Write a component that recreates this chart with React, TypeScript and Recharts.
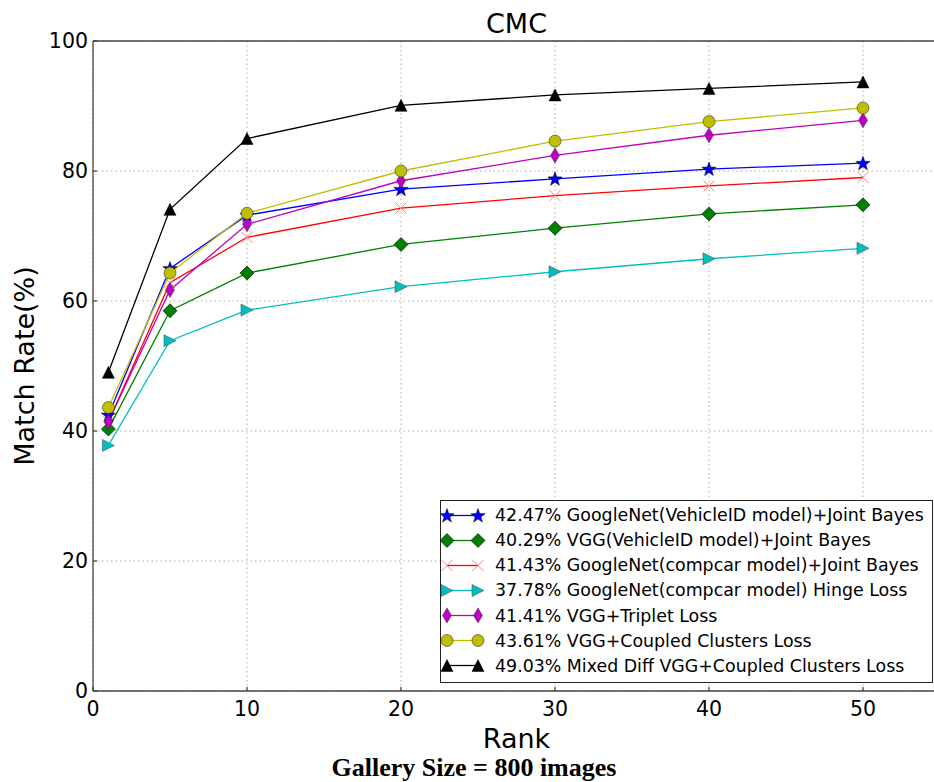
import React from 'react';
import { LineChart, Line, XAxis, YAxis, CartesianGrid, ReferenceLine, Legend } from 'recharts';

const ranks = [1, 5, 10, 20, 30, 40, 50];
const googleNetVehicleJB = [42.47, 65.0, 73.2, 77.2, 78.8, 80.3, 81.2];
const vggVehicleJB = [40.29, 58.5, 64.3, 68.7, 71.2, 73.4, 74.8];
const googleNetCompcarJB = [41.43, 62.8, 69.8, 74.3, 76.2, 77.7, 79.0];
const googleNetCompcarHinge = [37.78, 53.9, 58.6, 62.2, 64.5, 66.5, 68.1];
const vggTriplet = [41.41, 61.7, 71.8, 78.5, 82.4, 85.5, 87.8];
const vggCoupled = [43.61, 64.3, 73.5, 80.0, 84.6, 87.6, 89.7];
const mixedDiffCoupled = [49.03, 74.1, 85.0, 90.1, 91.7, 92.7, 93.7];

const xTicks = [0, 10, 20, 30, 40, 50];
const yTicks = [0, 20, 40, 60, 80, 100];

const FONT = '"DejaVu Sans", sans-serif';

const series = [
  { key: 's0', name: '42.47% GoogleNet(VehicleID model)+Joint Bayes', color: '#0000ff', shape: 'star', values: googleNetVehicleJB },
  { key: 's1', name: '40.29% VGG(VehicleID model)+Joint Bayes', color: '#008000', shape: 'diamond', values: vggVehicleJB },
  { key: 's2', name: '41.43% GoogleNet(compcar model)+Joint Bayes', color: '#ff0000', shape: 'x', values: googleNetCompcarJB },
  { key: 's3', name: '37.78% GoogleNet(compcar model) Hinge Loss', color: '#00bfbf', shape: 'triRight', values: googleNetCompcarHinge },
  { key: 's4', name: '41.41% VGG+Triplet Loss', color: '#bf00bf', shape: 'thinDiamond', values: vggTriplet },
  { key: 's5', name: '43.61% VGG+Coupled Clusters Loss', color: '#bfbf00', shape: 'circle', values: vggCoupled },
  { key: 's6', name: '49.03% Mixed Diff VGG+Coupled Clusters Loss', color: '#000000', shape: 'triUp', values: mixedDiffCoupled },
];

const data = ranks.map((rank, i) => {
  const row: Record<string, number> = { rank };
  series.forEach((s) => {
    row[s.key] = s.values[i];
  });
  return row;
});

const starPath = (cx: number, cy: number, R: number) => {
  const r = R * 0.4;
  const pts: string[] = [];
  for (let i = 0; i < 10; i++) {
    const rad = i % 2 === 0 ? R : r;
    const a = -Math.PI / 2 + (i * Math.PI) / 5;
    pts.push(`${cx + rad * Math.cos(a)},${cy + rad * Math.sin(a)}`);
  }
  return pts.join(' ');
};

const Marker = ({ shape, cx, cy }: { shape: string; cx: number; cy: number }) => {
  if (cx == null || cy == null) return null;
  switch (shape) {
    case 'star':
      return <polygon points={starPath(cx, cy + 0.5, 7.5)} fill="#0000ff" stroke="#000" strokeWidth={0.5} />;
    case 'diamond':
      return (
        <polygon
          points={`${cx},${cy - 7} ${cx + 7},${cy} ${cx},${cy + 7} ${cx - 7},${cy}`}
          fill="#008000"
          stroke="#000"
          strokeWidth={0.6}
        />
      );
    case 'x':
      return (
        <g stroke="#ff8080" strokeWidth={1}>
          <line x1={cx - 5.5} y1={cy - 5.5} x2={cx + 5.5} y2={cy + 5.5} />
          <line x1={cx - 5.5} y1={cy + 5.5} x2={cx + 5.5} y2={cy - 5.5} />
        </g>
      );
    case 'triRight':
      return (
        <polygon
          points={`${cx + 6},${cy} ${cx - 6},${cy - 6} ${cx - 6},${cy + 6}`}
          fill="#00bfbf"
          stroke="#555"
          strokeWidth={0.6}
        />
      );
    case 'thinDiamond':
      return (
        <polygon
          points={`${cx},${cy - 7.5} ${cx + 4.5},${cy} ${cx},${cy + 7.5} ${cx - 4.5},${cy}`}
          fill="#bf00bf"
          stroke="#333"
          strokeWidth={0.5}
        />
      );
    case 'circle':
      return <circle cx={cx} cy={cy} r={6} fill="#bfbf00" stroke="#333" strokeWidth={0.6} />;
    case 'triUp':
      return <polygon points={`${cx},${cy - 6} ${cx + 6},${cy + 6} ${cx - 6},${cy + 6}`} fill="#000" stroke="#000" strokeWidth={0.5} />;
    default:
      return null;
  }
};

const LegendBox = () => (
  <div
    style={{
      border: '1px solid #222',
      background: '#fff',
      padding: '1.5px 0 3.5px 0',
      width: 493,
      boxSizing: 'border-box',
      fontFamily: FONT,
      fontSize: 17.4,
      color: '#000',
    }}
  >
    {series.map((s) => (
      <div key={s.key} style={{ display: 'flex', alignItems: 'center', height: 25.15, whiteSpace: 'nowrap' }}>
        <svg width={48} height={25} style={{ flex: 'none' }}>
          <line x1={6} x2={37} y1={12.5} y2={12.5} stroke={s.color} strokeWidth={1.3} />
          <Marker shape={s.shape} cx={6} cy={12.5} />
          <Marker shape={s.shape} cx={37} cy={12.5} />
        </svg>
        <span style={{ marginLeft: 6 }}>{s.name}</span>
      </div>
    ))}
  </div>
);

const App = () => {
  return (
    <div
      style={{
        position: 'absolute',
        left: 0,
        top: 0,
        width: 934,
        height: 782,
        overflow: 'hidden',
        background: '#fff',
      }}
    >
      <LineChart width={960} height={782} data={data} margin={{ top: 41, right: 20, bottom: 0, left: 0 }}>
        <CartesianGrid stroke="#999" strokeDasharray="1.5 3" strokeWidth={0.8} />
        <XAxis
          dataKey="rank"
          type="number"
          domain={[0, 55]}
          ticks={xTicks}
          height={91}
          tickSize={-4}
          tickMargin={14}
          stroke="#444"
          strokeWidth={1.3}
          tick={{ fill: '#000', fontSize: 20.5, fontFamily: FONT }}
          label={{
            content: () => (
              <text x={516.5} y={748} textAnchor="middle" fontSize={27} fontFamily={FONT} fill="#000">
                Rank
              </text>
            ),
          }}
        />
        <YAxis
          type="number"
          domain={[0, 100]}
          ticks={yTicks}
          width={93}
          tickSize={-4}
          tickMargin={9}
          stroke="#444"
          strokeWidth={1.3}
          tick={{ fill: '#000', fontSize: 20.5, fontFamily: FONT }}
          label={{
            content: () => (
              <text
                x={34}
                y={366}
                transform="rotate(-90 34 366)"
                textAnchor="middle"
                fontSize={27}
                fontFamily={FONT}
                fill="#000"
              >
                Match Rate(%)
              </text>
            ),
          }}
        />
        <ReferenceLine
          y={100}
          stroke="#444"
          strokeWidth={1.3}
          label={{
            content: () => (
              <text x={516.5} y={33} textAnchor="middle" fontSize={27} fontFamily={FONT} fill="#000">
                CMC
              </text>
            ),
          }}
        />
        <ReferenceLine x={55} stroke="#444" strokeWidth={1.3} />
        {series.map((s) => (
          <Line
            key={s.key}
            dataKey={s.key}
            name={s.name}
            stroke={s.color}
            strokeWidth={1.3}
            isAnimationActive={false}
            activeDot={false}
            dot={(p: any) => <Marker key={`${s.key}-${p.index}`} shape={s.shape} cx={p.cx} cy={p.cy} />}
          />
        ))}
        <Legend
          layout="vertical"
          align="center"
          verticalAlign="middle"
          content={() => <LegendBox />}
          wrapperStyle={{ left: 440, top: 500, width: 493, height: 'auto' }}
        />
      </LineChart>
      <div
        style={{
          position: 'absolute',
          left: 0,
          width: 948,
          top: 755,
          textAlign: 'center',
          fontFamily: '"Liberation Serif", "Times New Roman", serif',
          fontWeight: 'bold',
          fontSize: 26,
          lineHeight: 1,
          color: '#000',
          whiteSpace: 'nowrap',
        }}
      >
        Gallery Size = 800 images
      </div>
    </div>
  );
};

export default App;
